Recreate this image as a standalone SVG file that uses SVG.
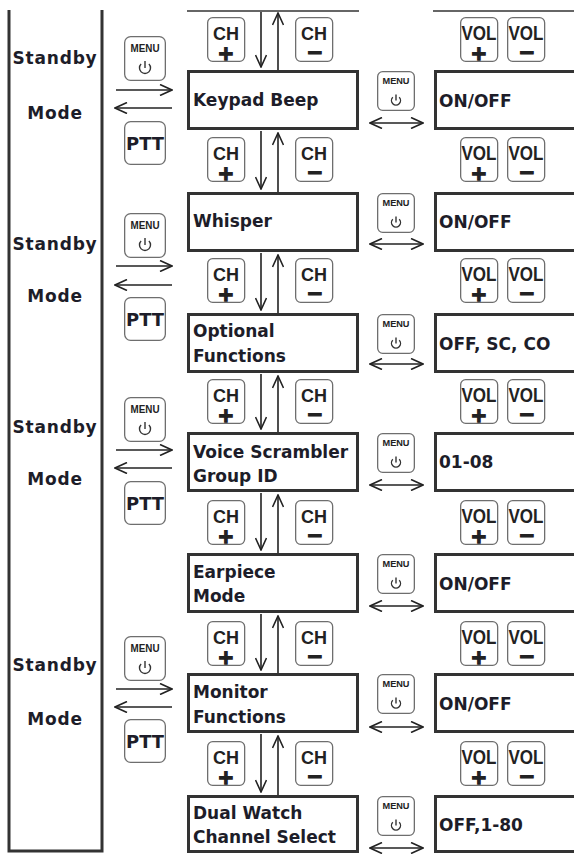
<svg xmlns="http://www.w3.org/2000/svg" xmlns:xlink="http://www.w3.org/1999/xlink" width="574" height="854" viewBox="0 0 574 854">
<style>
.frame{fill:none;stroke:#333;stroke-width:3}
.thin{fill:none;stroke:#333;stroke-width:1.5}
.box{fill:#fff;stroke:#333;stroke-width:3}
.btn{fill:#fff;stroke:#6e6e6e;stroke-width:1.3}
.ln{fill:none;stroke:#222;stroke-width:1.6}
.pw{fill:none;stroke:#333;stroke-width:1.4}
.t{font-family:"DejaVu Sans",Verdana,sans-serif;font-weight:bold;font-size:17px;fill:#1d1d29}
.sb{letter-spacing:0.8px;text-anchor:middle}
.bt{font-family:"Liberation Sans",Arial,sans-serif;font-weight:bold;fill:#222;text-anchor:middle}
.pm{font-family:"DejaVu Sans",sans-serif;font-weight:bold;font-size:20px;fill:#222;stroke:#222;stroke-width:1.3;text-anchor:middle}
</style>
<defs>
<marker id="ah" viewBox="0 0 14 12" refX="13" refY="6" markerWidth="14" markerHeight="12" markerUnits="userSpaceOnUse" orient="auto-start-reverse">
<path d="M1,0.5 L13,6 L1,11.5" fill="none" stroke="#222" stroke-width="1.6"/>
</marker>
<g id="tpl-chp"><rect class="btn" x="0.65" y="0.65" width="37" height="43.7" rx="5"/><text class="bt" x="19" y="23" font-size="18">CH</text><text class="pm" x="19" y="42.5">+</text></g>
<g id="tpl-chm"><rect class="btn" x="0.65" y="0.65" width="37" height="43.7" rx="5"/><text class="bt" x="19" y="23" font-size="18">CH</text><text class="pm" x="20" y="41.5">−</text></g>
<g id="tpl-volp"><rect class="btn" x="0.65" y="0.65" width="37" height="43.7" rx="5"/><text class="bt" x="19" y="23" font-size="20" textLength="35" lengthAdjust="spacingAndGlyphs">VOL</text><text class="pm" x="19" y="42.5">+</text></g>
<g id="tpl-volm"><rect class="btn" x="0.65" y="0.65" width="37" height="43.7" rx="5"/><text class="bt" x="19" y="23" font-size="20" textLength="35" lengthAdjust="spacingAndGlyphs">VOL</text><text class="pm" x="20" y="41.5">−</text></g>
<g id="tpl-menuL"><rect class="btn" x="0.65" y="0.65" width="40.7" height="43.7" rx="6"/><text class="bt" x="21" y="16" font-size="10" textLength="29" lengthAdjust="spacingAndGlyphs" fill="#1d1d3a">MENU</text><path class="pw" d="M17.1,28.1 A5.5,5.5 0 1 0 24.9,28.1 M21,25 V32"/></g>
<g id="tpl-menuR"><rect class="btn" x="0.65" y="0.65" width="36.7" height="38.7" rx="5"/><text class="bt" x="19" y="13" font-size="8.5" textLength="27" lengthAdjust="spacingAndGlyphs" fill="#1d1d3a">MENU</text><path class="pw" d="M15.8,26.3 A4.5,4.5 0 1 0 22.2,26.3 M19,23.5 V29.5"/></g>
<g id="tpl-ptt"><rect class="btn" x="0.65" y="0.65" width="40.7" height="42.7" rx="6"/><text class="t" x="21" y="29" font-size="18" text-anchor="middle" textLength="38" lengthAdjust="spacingAndGlyphs">PTT</text></g>
</defs>
<rect width="574" height="854" fill="#fff"/>

<g id="standby-frame">
<path class="frame" d="M9,10 V851 H102 V10"/>
</g>
<g id="standby-1"><text class="t sb" x="55" y="64">Standby</text><text class="t sb" x="55" y="119">Mode</text></g>
<g id="standby-2"><text class="t sb" x="55" y="250">Standby</text><text class="t sb" x="55" y="302">Mode</text></g>
<g id="standby-3"><text class="t sb" x="55" y="433">Standby</text><text class="t sb" x="55" y="485">Mode</text></g>
<g id="standby-4"><text class="t sb" x="55" y="671">Standby</text><text class="t sb" x="55" y="725">Mode</text></g>

<g id="top-lines">
<line class="thin" x1="187" y1="11" x2="359" y2="11"/>
<line class="thin" x1="433" y1="11" x2="574" y2="11"/>
</g>

<g id="left-buttons">
<use xlink:href="#tpl-menuL" x="124" y="36"/><use xlink:href="#tpl-ptt" x="124" y="121"/>
<use xlink:href="#tpl-menuL" x="124" y="213"/><use xlink:href="#tpl-ptt" x="124" y="297"/>
<use xlink:href="#tpl-menuL" x="124" y="397"/><use xlink:href="#tpl-ptt" x="124" y="481"/>
<use xlink:href="#tpl-menuL" x="124" y="636"/><use xlink:href="#tpl-ptt" x="124" y="719"/>
</g>

<g id="node-keypad-beep"><rect class="box" x="188.5" y="71.5" width="169" height="57"/><text class="t" x="193" y="106">Keypad Beep</text></g>
<g id="node-whisper"><rect class="box" x="188.5" y="193.5" width="169" height="57"/><text class="t" x="193" y="227">Whisper</text></g>
<g id="node-optional"><rect class="box" x="188.5" y="314.5" width="169" height="57"/><text class="t" x="193" y="337">Optional</text><text class="t" x="193" y="362">Functions</text></g>
<g id="node-voice-scrambler"><rect class="box" x="188.5" y="433.5" width="169" height="57"/><text class="t" x="193" y="458">Voice Scrambler</text><text class="t" x="193" y="482">Group ID</text></g>
<g id="node-earpiece"><rect class="box" x="188.5" y="554.5" width="169" height="57"/><text class="t" x="193" y="578">Earpiece</text><text class="t" x="193" y="602">Mode</text></g>
<g id="node-monitor"><rect class="box" x="188.5" y="674.5" width="169" height="57"/><text class="t" x="193" y="698">Monitor</text><text class="t" x="193" y="723">Functions</text></g>
<g id="node-dual-watch"><rect class="box" x="188.5" y="796.5" width="169" height="55"/><text class="t" x="193" y="819">Dual Watch</text><text class="t" x="193" y="843">Channel Select</text></g>

<g id="val-keypad-beep"><rect class="box" x="435.5" y="71.5" width="150" height="57"/><text class="t" x="439" y="107">ON/OFF</text></g>
<g id="val-whisper"><rect class="box" x="435.5" y="193.5" width="150" height="57"/><text class="t" x="439" y="228">ON/OFF</text></g>
<g id="val-optional"><rect class="box" x="435.5" y="314.5" width="150" height="57"/><text class="t" x="439" y="350">OFF, SC, CO</text></g>
<g id="val-voice-scrambler"><rect class="box" x="435.5" y="433.5" width="150" height="57"/><text class="t" x="439" y="468">01-08</text></g>
<g id="val-earpiece"><rect class="box" x="435.5" y="554.5" width="150" height="57"/><text class="t" x="439" y="590">ON/OFF</text></g>
<g id="val-monitor"><rect class="box" x="435.5" y="674.5" width="150" height="57"/><text class="t" x="439" y="710">ON/OFF</text></g>
<g id="val-dual-watch"><rect class="box" x="435.5" y="796.5" width="150" height="55"/><text class="t" x="439" y="831">OFF,1-80</text></g>

<g id="right-menu-buttons">
<use xlink:href="#tpl-menuR" x="377" y="71"/>
<use xlink:href="#tpl-menuR" x="377" y="193"/>
<use xlink:href="#tpl-menuR" x="377" y="314"/>
<use xlink:href="#tpl-menuR" x="377" y="433"/>
<use xlink:href="#tpl-menuR" x="377" y="554"/>
<use xlink:href="#tpl-menuR" x="377" y="674"/>
<use xlink:href="#tpl-menuR" x="377" y="796"/>
</g>

<g id="ch-vol-buttons">
<use xlink:href="#tpl-chp" x="207" y="17"/><use xlink:href="#tpl-chm" x="295" y="17"/><use xlink:href="#tpl-volp" x="460" y="17"/><use xlink:href="#tpl-volm" x="507" y="17"/>
<use xlink:href="#tpl-chp" x="207" y="137"/><use xlink:href="#tpl-chm" x="295" y="137"/><use xlink:href="#tpl-volp" x="460" y="137"/><use xlink:href="#tpl-volm" x="507" y="137"/>
<use xlink:href="#tpl-chp" x="207" y="258"/><use xlink:href="#tpl-chm" x="295" y="258"/><use xlink:href="#tpl-volp" x="460" y="258"/><use xlink:href="#tpl-volm" x="507" y="258"/>
<use xlink:href="#tpl-chp" x="207" y="379"/><use xlink:href="#tpl-chm" x="295" y="379"/><use xlink:href="#tpl-volp" x="460" y="379"/><use xlink:href="#tpl-volm" x="507" y="379"/>
<use xlink:href="#tpl-chp" x="207" y="500"/><use xlink:href="#tpl-chm" x="295" y="500"/><use xlink:href="#tpl-volp" x="460" y="500"/><use xlink:href="#tpl-volm" x="507" y="500"/>
<use xlink:href="#tpl-chp" x="207" y="621"/><use xlink:href="#tpl-chm" x="295" y="621"/><use xlink:href="#tpl-volp" x="460" y="621"/><use xlink:href="#tpl-volm" x="507" y="621"/>
<use xlink:href="#tpl-chp" x="207" y="741"/><use xlink:href="#tpl-chm" x="295" y="741"/><use xlink:href="#tpl-volp" x="460" y="741"/><use xlink:href="#tpl-volm" x="507" y="741"/>
</g>

<g id="connectors">
<line class="ln" x1="116" y1="90" x2="172" y2="90" marker-end="url(#ah)"/>
<line class="ln" x1="172" y1="108" x2="115" y2="108" marker-end="url(#ah)"/>
<line class="ln" x1="116" y1="266" x2="172" y2="266" marker-end="url(#ah)"/>
<line class="ln" x1="172" y1="285" x2="115" y2="285" marker-end="url(#ah)"/>
<line class="ln" x1="116" y1="450" x2="172" y2="450" marker-end="url(#ah)"/>
<line class="ln" x1="172" y1="468" x2="115" y2="468" marker-end="url(#ah)"/>
<line class="ln" x1="116" y1="689" x2="172" y2="689" marker-end="url(#ah)"/>
<line class="ln" x1="172" y1="707" x2="115" y2="707" marker-end="url(#ah)"/>

<line class="ln" x1="261" y1="12" x2="261" y2="67" marker-end="url(#ah)"/>
<line class="ln" x1="278" y1="70" x2="278" y2="13" marker-end="url(#ah)"/>
<line class="ln" x1="261" y1="131" x2="261" y2="189" marker-end="url(#ah)"/>
<line class="ln" x1="278" y1="192" x2="278" y2="133" marker-end="url(#ah)"/>
<line class="ln" x1="261" y1="253" x2="261" y2="310" marker-end="url(#ah)"/>
<line class="ln" x1="278" y1="313" x2="278" y2="255" marker-end="url(#ah)"/>
<line class="ln" x1="261" y1="374" x2="261" y2="429" marker-end="url(#ah)"/>
<line class="ln" x1="278" y1="432" x2="278" y2="376" marker-end="url(#ah)"/>
<line class="ln" x1="261" y1="493" x2="261" y2="550" marker-end="url(#ah)"/>
<line class="ln" x1="278" y1="553" x2="278" y2="495" marker-end="url(#ah)"/>
<line class="ln" x1="261" y1="614" x2="261" y2="670" marker-end="url(#ah)"/>
<line class="ln" x1="278" y1="673" x2="278" y2="616" marker-end="url(#ah)"/>
<line class="ln" x1="261" y1="734" x2="261" y2="792" marker-end="url(#ah)"/>
<line class="ln" x1="278" y1="795" x2="278" y2="736" marker-end="url(#ah)"/>

<line class="ln" x1="370" y1="123" x2="423" y2="123" marker-start="url(#ah)" marker-end="url(#ah)"/>
<line class="ln" x1="370" y1="244" x2="423" y2="244" marker-start="url(#ah)" marker-end="url(#ah)"/>
<line class="ln" x1="370" y1="364" x2="423" y2="364" marker-start="url(#ah)" marker-end="url(#ah)"/>
<line class="ln" x1="370" y1="485" x2="423" y2="485" marker-start="url(#ah)" marker-end="url(#ah)"/>
<line class="ln" x1="370" y1="606" x2="423" y2="606" marker-start="url(#ah)" marker-end="url(#ah)"/>
<line class="ln" x1="370" y1="727" x2="423" y2="727" marker-start="url(#ah)" marker-end="url(#ah)"/>
<line class="ln" x1="370" y1="848" x2="423" y2="848" marker-start="url(#ah)" marker-end="url(#ah)"/>
</g>
</svg>
